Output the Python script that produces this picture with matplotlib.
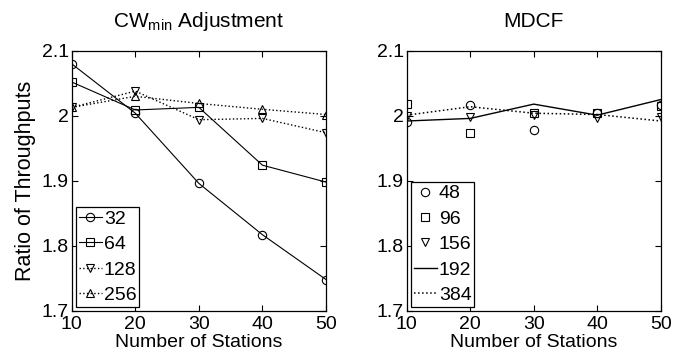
import matplotlib
matplotlib.use("Agg")
import matplotlib.pyplot as plt

plt.rcParams['font.family'] = ['Liberation Sans', 'DejaVu Sans']
plt.rcParams['mathtext.fontset'] = 'custom'
plt.rcParams['mathtext.rm'] = 'Liberation Sans'

stations = [10, 20, 30, 40, 50]

# Left panel: CWmin Adjustment
cw_labels = ["32", "64", "128", "256"]
cw_32 = [2.080, 2.004, 1.896, 1.817, 1.748]
cw_64 = [2.052, 2.009, 2.013, 1.924, 1.898]
cw_128 = [2.013, 2.038, 1.994, 1.996, 1.974]
cw_256 = [2.013, 2.030, 2.019, 2.010, 2.002]

# Right panel: MDCF
md_labels = ["48", "96", "156", "192", "384"]
md_48 = [1.990, 2.016, 1.978, 2.005, 2.016]
md_96 = [2.018, 1.974, 2.004, 2.005, 2.015]
md_156 = [2.000, 1.998, 2.001, 1.996, 1.998]
md_192 = [1.992, 1.996, 2.018, 2.001, 2.025]
md_384 = [2.001, 2.014, 2.004, 2.002, 1.992]

yticks = [1.7, 1.8, 1.9, 2.0, 2.1]
yticklabels = ["1.7", "1.8", "1.9", "2", "2.1"]
xticks = [10, 20, 30, 40, 50]

fig = plt.figure(figsize=(6.91, 3.58), dpi=100)
ax1 = fig.add_axes([0.1038, 0.132, 0.368, 0.726])
ax2 = fig.add_axes([0.5886, 0.132, 0.3676, 0.726])

lw = 0.8
ms = 6
mk = dict(markerfacecolor='none', markeredgecolor='black', markeredgewidth=0.8, markersize=ms)

ax1.plot(stations, cw_32, '-', color='black', lw=lw, marker='o', label=cw_labels[0], **mk)
ax1.plot(stations, cw_64, '-', color='black', lw=lw, marker='s', label=cw_labels[1], **mk)
ax1.plot(stations, cw_128, ':', color='black', lw=lw+0.2, marker='v', label=cw_labels[2], **mk)
ax1.plot(stations, cw_256, ':', color='black', lw=lw+0.2, marker='^', label=cw_labels[3], **mk)

ax2.plot(stations, md_48, linestyle='none', marker='o', label=md_labels[0], **mk)
ax2.plot(stations, md_96, linestyle='none', marker='s', label=md_labels[1], **mk)
ax2.plot(stations, md_156, linestyle='none', marker='v', label=md_labels[2], **mk)
ax2.plot(stations, md_192, '-', color='black', lw=lw+0.2, label=md_labels[3])
ax2.plot(stations, md_384, ':', color='black', lw=lw+0.3, label=md_labels[4])

fs = 14
for ax in (ax1, ax2):
    ax.set_xlim(10, 50)
    ax.set_ylim(1.7, 2.1)
    ax.set_xticks(xticks)
    ax.set_yticks(yticks)
    ax.set_yticklabels(yticklabels)
    ax.tick_params(direction='in', top=True, right=True, labelsize=fs, length=4, width=0.8)
    ax.tick_params(axis='x', pad=4)
    ax.tick_params(axis='y', pad=2)
    ax.set_xlabel("Number of Stations", fontsize=fs, labelpad=0.5)
    for s in ax.spines.values():
        s.set_linewidth(0.9)

ax1.set_ylabel("Ratio of Throughputs", fontsize=15.5, labelpad=4)
ax1.set_title(r"CW$_{\mathregular{min}}$ Adjustment", fontsize=15, pad=13, va='bottom')
ax2.set_title("MDCF", fontsize=15, pad=14, va='bottom')

leg_kw = dict(loc='lower left', fontsize=fs, frameon=True, fancybox=False, edgecolor='black',
              handlelength=1.2, handletextpad=0.1, borderpad=0.15, labelspacing=0.4,
              borderaxespad=0.2, framealpha=1)
l1 = ax1.legend(**leg_kw)
l2 = ax2.legend(**leg_kw)
for l in (l1, l2):
    l.get_frame().set_linewidth(0.9)

fig.savefig("out.png", dpi=100)
